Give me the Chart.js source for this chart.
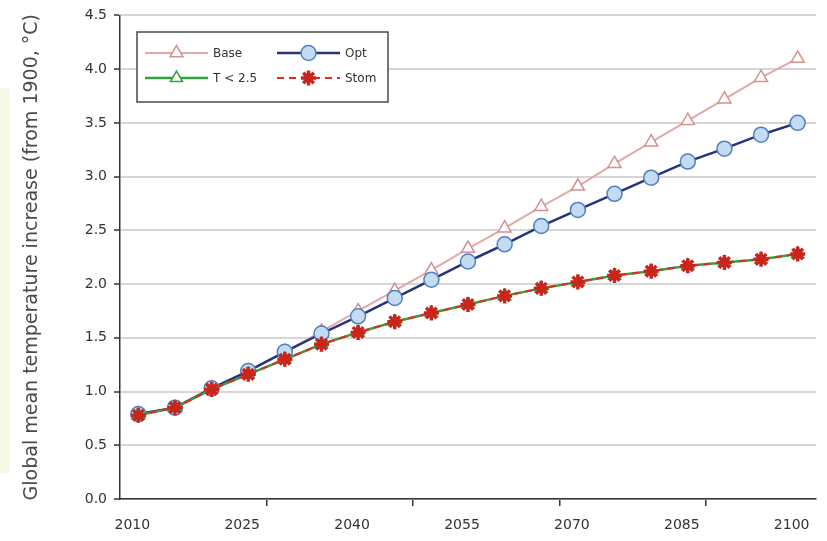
<!DOCTYPE html>
<html>
<head>
<meta charset="utf-8">
<script src="https://cdn.jsdelivr.net/npm/chart.js@4/dist/chart.umd.min.js"></script>
<style>
  html, body { margin: 0; padding: 0; background: #ffffff; }
  #wrap { width: 827px; height: 541px; }
</style>
</head>
<body>
<div id="wrap"><canvas id="chart" width="827" height="541"></canvas></div>
<script>
// Scenario years (every 5 years) and warming relative to 1900, in °C
const years = [2010, 2015, 2020, 2025, 2030, 2035, 2040, 2045, 2050, 2055,
               2060, 2065, 2070, 2075, 2080, 2085, 2090, 2095, 2100];
const labelYears = [2010, 2025, 2040, 2055, 2070, 2085, 2100];
const tempTicks = [0.0, 0.5, 1.0, 1.5, 2.0, 2.5, 3.0, 3.5, 4.0, 4.5];

const baseTemp = [0.79, 0.85, 1.03, 1.19, 1.37, 1.56, 1.75, 1.94, 2.13, 2.33,
                  2.52, 2.72, 2.91, 3.12, 3.32, 3.52, 3.72, 3.92, 4.10];
const optTemp  = [0.79, 0.85, 1.03, 1.19, 1.37, 1.54, 1.70, 1.87, 2.04, 2.21,
                  2.37, 2.54, 2.69, 2.84, 2.99, 3.14, 3.26, 3.39, 3.50];
const capTemp  = [0.78, 0.85, 1.02, 1.16, 1.30, 1.44, 1.55, 1.65, 1.73, 1.81,
                  1.89, 1.96, 2.02, 2.08, 2.12, 2.17, 2.20, 2.23, 2.28];
const stomTemp = [0.78, 0.85, 1.02, 1.16, 1.30, 1.44, 1.55, 1.65, 1.73, 1.81,
                  1.89, 1.96, 2.02, 2.08, 2.12, 2.17, 2.20, 2.23, 2.28];

const FONT = "'DejaVu Sans', 'Liberation Sans', Arial, sans-serif";
const AXIS = '#333333';

// White page with the faint tinted strip along the left edge
const backdrop = {
  id: 'backdrop',
  beforeDraw(chart) {
    const ctx = chart.ctx;
    ctx.save();
    ctx.fillStyle = '#ffffff';
    ctx.fillRect(0, 0, chart.width, chart.height);
    ctx.fillStyle = '#f7f9e6';
    ctx.fillRect(0, 88, 10, 385);
    ctx.restore();
  }
};

// Boxed two-column key: line segment with the marker in its middle
const keyBox = {
  id: 'keyBox',
  afterDraw(chart) {
    const ctx = chart.ctx;
    const box = { x: 137, y: 32, w: 251, h: 70 };
    ctx.save();
    ctx.fillStyle = '#ffffff';
    ctx.fillRect(box.x, box.y, box.w, box.h);
    ctx.strokeStyle = '#4a4a4a';
    ctx.lineWidth = 1.5;
    ctx.strokeRect(box.x, box.y, box.w, box.h);

    const slots = [
      { ds: 0, x: 145, y: 53 },
      { ds: 1, x: 277, y: 53 },
      { ds: 2, x: 145, y: 78 },
      { ds: 3, x: 277, y: 78 }
    ];
    const segLen = 63;
    slots.forEach(s => {
      const d = chart.data.datasets[s.ds];
      ctx.save();
      ctx.strokeStyle = d.borderColor;
      ctx.lineWidth = d.borderWidth;
      ctx.setLineDash(d.borderDash || []);
      ctx.beginPath();
      ctx.moveTo(s.x, s.y);
      ctx.lineTo(s.x + segLen, s.y);
      ctx.stroke();
      ctx.restore();

      ctx.save();
      ctx.fillStyle = d.pointBackgroundColor;
      ctx.strokeStyle = d.pointBorderColor;
      ctx.lineWidth = d.pointBorderWidth;
      Chart.helpers.drawPoint(ctx, {
        pointStyle: d.pointStyle,
        radius: d.pointRadius,
        borderWidth: d.pointBorderWidth,
        rotation: 0
      }, s.x + segLen / 2, s.y);
      ctx.restore();

      ctx.fillStyle = '#333333';
      ctx.font = '12px ' + FONT;
      ctx.textBaseline = 'middle';
      ctx.textAlign = 'left';
      ctx.fillText(d.label, s.x + segLen + 5, s.y + 1);
    });
    ctx.restore();
  }
};

new Chart(document.getElementById('chart'), {
  type: 'line',
  data: {
    labels: years,
    datasets: [
      {
        label: 'Base',
        data: baseTemp,
        borderColor: '#e2a9a9',
        borderWidth: 2,
        pointStyle: 'triangle',
        pointRadius: 7.5,
        pointBackgroundColor: '#ffffff',
        pointBorderColor: '#d68f8f',
        pointBorderWidth: 1.5,
        order: 4
      },
      {
        label: 'Opt',
        data: optTemp,
        borderColor: '#26357a',
        borderWidth: 2.5,
        pointStyle: 'circle',
        pointRadius: 7.5,
        pointBackgroundColor: '#c3dcf1',
        pointBorderColor: '#4f80c1',
        pointBorderWidth: 1.5,
        order: 3
      },
      {
        label: 'T < 2.5',
        data: capTemp,
        borderColor: '#35a040',
        borderWidth: 2.5,
        pointStyle: 'triangle',
        pointRadius: 7,
        pointBackgroundColor: '#ffffff',
        pointBorderColor: '#35a040',
        pointBorderWidth: 1.5,
        order: 2
      },
      {
        label: 'Stom',
        data: stomTemp,
        borderColor: '#e22a22',
        borderWidth: 2,
        borderDash: [7, 5],
        pointStyle: 'star',
        pointRadius: 7.5,
        pointBackgroundColor: '#c8261c',
        pointBorderColor: '#c8261c',
        pointBorderWidth: 3.5,
        order: 1
      }
    ]
  },
  options: {
    responsive: false,
    animation: false,
    devicePixelRatio: 1,
    layout: { padding: { left: 0, top: 12, right: 9, bottom: 0 } },
    plugins: {
      legend: { display: false },
      tooltip: { enabled: false }
    },
    elements: { line: { tension: 0 } },
    scales: {
      x: {
        type: 'category',
        offset: true,
        afterFit(scale) { scale.height = 42; },
        grid: {
          offset: true,
          drawOnChartArea: false,
          drawTicks: true,
          tickLength: 7,
          lineWidth: 1.5,
          color: (c) => (c.index > 0 && c.index % 4 === 0) ? AXIS : 'rgba(0,0,0,0)'
        },
        border: { display: true, color: AXIS, width: 1.5 },
        ticks: {
          autoSkip: false,
          maxRotation: 0,
          padding: 11,
          labelOffset: -6,
          color: '#333333',
          font: { family: FONT, size: 14 },
          callback(value, index) {
            const yr = this.getLabelForValue(value);
            return labelYears.includes(Number(yr)) ? String(yr) : '';
          }
        }
      },
      y: {
        min: 0,
        max: 4.5,
        afterFit(scale) { scale.width = 120; },
        afterBuildTicks(scale) { scale.ticks = tempTicks.map(v => ({ value: v })); },
        grid: {
          color: '#d6d6d6',
          lineWidth: 2,
          drawTicks: true,
          tickLength: 6,
          tickColor: AXIS,
          tickWidth: 1.5
        },
        border: { display: true, color: AXIS, width: 1.5 },
        ticks: {
          padding: 7,
          color: '#333333',
          font: { family: FONT, size: 14 },
          callback: (v) => Number(v).toFixed(1)
        },
        title: {
          display: true,
          text: 'Global mean temperature increase (from 1900, °C)',
          color: '#4a4a4a',
          font: { family: FONT, size: 19 },
          padding: { top: 21, bottom: 0 }
        }
      }
    }
  },
  plugins: [backdrop, keyBox]
});
</script>
</body>
</html>
